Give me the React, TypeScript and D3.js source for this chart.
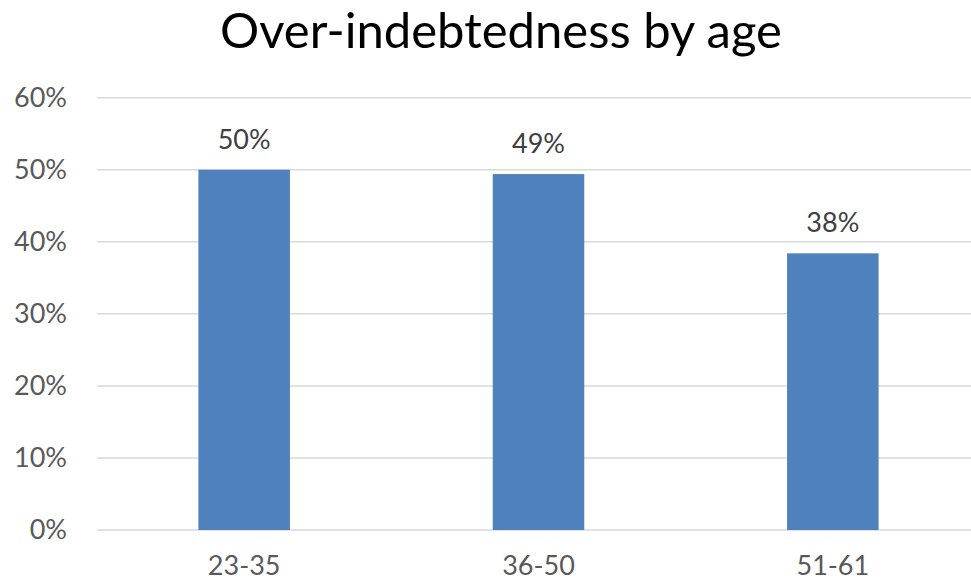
import React from "react";
import * as d3 from "d3";

const categories = ["23-35", "36-50", "51-61"];
const values = [0.5, 0.494, 0.384];
const labels = ["50%", "49%", "38%"];
const yTicks = [0, 0.1, 0.2, 0.3, 0.4, 0.5, 0.6];
const title = "Over-indebtedness by age";

export default function App() {
  const W = 971, H = 583;
  const x = d3.scaleBand<string>().domain(categories).range([97, 980]).paddingInner(0.689).paddingOuter(0.3445);
  const y = d3.scaleLinear().domain([0, 0.6]).range([530, 97.7]);
  const font = "Lato, 'Open Sans', sans-serif";
  const fmt = d3.format(".0%");
  return (
    <svg width={W} height={H} style={{ position: "absolute", left: 0, top: 0, background: "#fff" }}>
      <text x={501} y={48} textAnchor="middle" fontFamily={font} fontSize={49} fill="#000">{title}</text>
      {yTicks.map((t) => (
        <g key={t}>
          <line x1={97} x2={971} y1={y(t)} y2={y(t)} stroke="#D9D9D9" strokeWidth={1.5} />
          <text x={67} y={y(t)} dy="0.35em" textAnchor="end" fontFamily={font} fontSize={27} fill="#595959">{fmt(t)}</text>
        </g>
      ))}
      {categories.map((c, i) => (
        <g key={c}>
          <rect x={x(c)} y={y(values[i])} width={x.bandwidth()} height={y(0) - y(values[i])} fill="#4F81BD" />
          <text x={(x(c) as number) + x.bandwidth() / 2} y={y(values[i]) - 21} textAnchor="middle" fontFamily={font} fontSize={27} fill="#404040">{labels[i]}</text>
          <text x={(x(c) as number) + x.bandwidth() / 2} y={575} textAnchor="middle" fontFamily={font} fontSize={27} fill="#595959">{c}</text>
        </g>
      ))}
    </svg>
  );
}
